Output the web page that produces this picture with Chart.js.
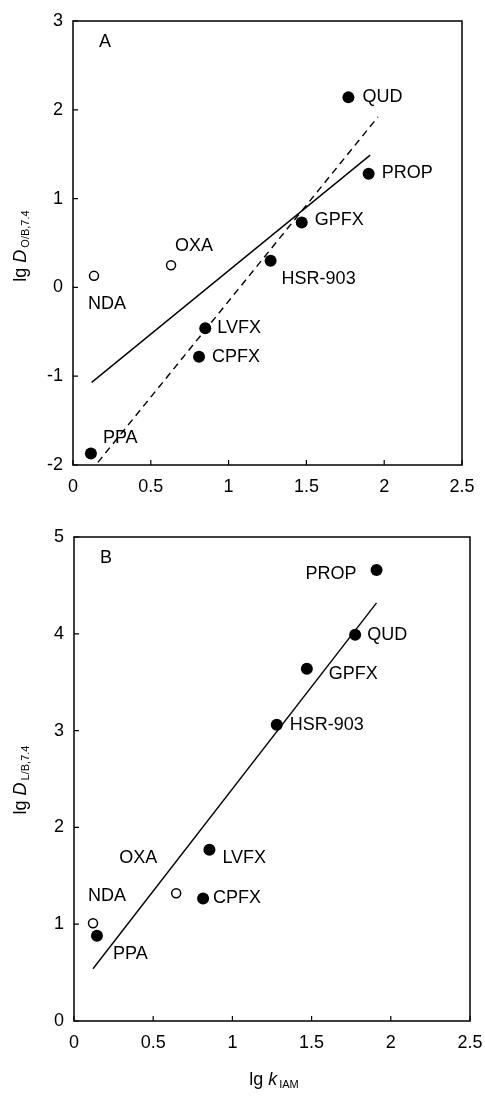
<!DOCTYPE html>
<html>
<head>
<meta charset="utf-8">
<script src="https://cdn.jsdelivr.net/npm/chart.js@4/dist/chart.umd.min.js"></script>
<style>
    html, body { margin: 0; padding: 0; background: #fff; }
    #wrap { position: relative; width: 485px; height: 1098px; font-family: "Liberation Sans", Arial, sans-serif; color: #000; }
    .panel { position: absolute; left: 0; width: 485px; }
    .ytitle, .xtitle { position: absolute; white-space: nowrap; font-size: 18px; line-height: 1; }
    .ytitle { transform: translate(-50%, -50%) rotate(-90deg); }
    .xtitle { transform: translate(-50%, -50%); }
    .ytitle sub, .xtitle sub { font-size: 11px; vertical-align: -3px; margin-left: 2px; }
</style>
</head>
<body>
<div id="wrap">
    <div class="panel" style="top:0;height:500px"><canvas id="chartA"></canvas></div>
    <div class="panel" style="top:500px;height:598px"><canvas id="chartB"></canvas></div>
    <div class="ytitle" style="left:21px;top:246px">lg <i>D</i><sub>O/B,7.4</sub></div>
    <div class="ytitle" style="left:21px;top:780px">lg <i>D</i><sub>L/B,7.4</sub></div>
    <div class="xtitle" style="left:274px;top:1080px">lg <i>k</i><sub>IAM</sub></div>
</div>
<script>
// Panneau A : lg D(O/B,7.4) en fonction de lg k(IAM)
const namesA_filled = ['QUD', 'PROP', 'GPFX', 'HSR-903', 'LVFX', 'CPFX', 'PPA'];
const xA_filled = [1.77, 1.90, 1.47, 1.27, 0.85, 0.81, 0.115];
const yA_filled = [2.14, 1.28, 0.73, 0.30, -0.46, -0.78, -1.87];
const namesA_open = ['OXA', 'NDA'];
const xA_open = [0.63, 0.135];
const yA_open = [0.25, 0.13];
const xA_solid = [0.12, 1.91];
const yA_solid = [-1.07, 1.49];
const xA_dashed = [0.16, 1.96];
const yA_dashed = [-1.97, 1.92];

// Panneau B : lg D(L/B,7.4) en fonction de lg k(IAM)
const namesB_filled = ['PROP', 'QUD', 'GPFX', 'HSR-903', 'LVFX', 'CPFX', 'PPA'];
const xB_filled = [1.91, 1.775, 1.47, 1.28, 0.855, 0.815, 0.145];
const yB_filled = [4.66, 3.99, 3.64, 3.06, 1.77, 1.265, 0.88];
const namesB_open = ['OXA', 'NDA'];
const xB_open = [0.645, 0.12];
const yB_open = [1.32, 1.01];
const xB_line = [0.12, 1.91];
const yB_line = [0.54, 4.32];

const xTicks = [0, 0.5, 1, 1.5, 2, 2.5];
const yTicksA = [-2, -1, 0, 1, 2, 3];
const yTicksB = [0, 1, 2, 3, 4, 5];

// Décalages des étiquettes (en pixels) par rapport au point
const offsetsA = {
    'QUD': [14, 0, 'left'], 'PROP': [13, -1, 'left'], 'GPFX': [13, -3, 'left'],
    'HSR-903': [11, 18, 'left'], 'OXA': [4, -19, 'left'], 'NDA': [-6, 28, 'left'],
    'LVFX': [12, 0, 'left'], 'CPFX': [13, 0, 'left'], 'PPA': [12, -15, 'left']
};
const offsetsB = {
    'PROP': [-20, 4, 'right'], 'QUD': [12, 0, 'left'], 'GPFX': [22, 5, 'left'],
    'HSR-903': [13, 0, 'left'], 'LVFX': [13, 8, 'left'], 'CPFX': [10, -1, 'left'],
    'OXA': [-57, -35, 'left'], 'NDA': [-5, -27, 'left'], 'PPA': [16, 18, 'left']
};

const FONT = '"Liberation Sans", Arial, sans-serif';

function toPoints(xs, ys) {
    return xs.map((x, i) => ({ x: x, y: ys[i] }));
}

function buildLabels(names, xs, ys, offsets) {
    return names.map((n, i) => {
        const o = offsets[n];
        return { text: n, x: xs[i], y: ys[i], dx: o[0], dy: o[1], align: o[2] };
    });
}

// Cadre, graduations intérieures, étiquettes des points et lettre du panneau
const decorPlugin = {
    id: 'decor',
    afterDatasetsDraw(chart, args, opts) {
        const ctx = chart.ctx;
        const a = chart.chartArea;
        const xs = chart.scales.x;
        const ys = chart.scales.y;
        ctx.save();
        ctx.strokeStyle = '#000';
        ctx.lineWidth = 1.5;
        ctx.strokeRect(a.left, a.top, a.right - a.left, a.bottom - a.top);
        ctx.lineWidth = 1.2;
        ctx.beginPath();
        xs.ticks.forEach(t => {
            const px = xs.getPixelForValue(t.value);
            ctx.moveTo(px, a.bottom);
            ctx.lineTo(px, a.bottom - 5);
        });
        ys.ticks.forEach(t => {
            const py = ys.getPixelForValue(t.value);
            ctx.moveTo(a.left, py);
            ctx.lineTo(a.left + 5, py);
        });
        ctx.stroke();

        ctx.fillStyle = '#000';
        ctx.font = '18px ' + FONT;
        ctx.textBaseline = 'middle';
        opts.labels.forEach(l => {
            ctx.textAlign = l.align;
            ctx.fillText(l.text, xs.getPixelForValue(l.x) + l.dx, ys.getPixelForValue(l.y) + l.dy);
        });
        ctx.textAlign = 'left';
        ctx.fillText(opts.letter, a.left + 26, a.top + 21);
        ctx.restore();
    }
};

function makeChart(canvasId, cfg) {
    const canvas = document.getElementById(canvasId);
    if (!canvas) {
        console.error("Canvas introuvable : " + canvasId);
        return;
    }
    return new Chart(canvas, {
        type: 'scatter',
        data: {
            datasets: [
                {
                    label: 'filled',
                    data: toPoints(cfg.xf, cfg.yf),
                    backgroundColor: '#000',
                    borderColor: '#000',
                    borderWidth: 0,
                    pointRadius: 6
                },
                {
                    label: 'open',
                    data: toPoints(cfg.xo, cfg.yo),
                    backgroundColor: '#fff',
                    borderColor: '#000',
                    borderWidth: 1.5,
                    pointRadius: 4.5
                },
                ...cfg.lines.map(l => ({
                    label: 'line',
                    data: toPoints(l.x, l.y),
                    showLine: true,
                    borderColor: '#000',
                    borderWidth: 1.4,
                    borderDash: l.dash || [],
                    pointRadius: 0
                }))
            ]
        },
        options: {
            responsive: true,
            maintainAspectRatio: false,
            animation: false,
            layout: { padding: cfg.padding },
            plugins: {
                legend: { display: false },
                tooltip: { enabled: false },
                decor: { labels: cfg.labels, letter: cfg.letter }
            },
            scales: {
                x: {
                    min: 0, max: 2.5,
                    afterBuildTicks: s => { s.ticks = xTicks.map(v => ({ value: v })); },
                    afterFit: s => { s.height = cfg.xHeight; s.paddingLeft = 0; s.paddingRight = 0; },
                    grid: { display: false, drawTicks: false },
                    border: { display: false },
                    ticks: {
                        color: '#000', padding: 11, maxRotation: 0,
                        font: { family: FONT, size: 18 },
                        callback: v => String(v)
                    }
                },
                y: {
                    min: cfg.yMin, max: cfg.yMax,
                    afterBuildTicks: s => { s.ticks = cfg.yTicks.map(v => ({ value: v })); },
                    afterFit: s => { s.width = cfg.yWidth; s.paddingTop = 0; s.paddingBottom = 0; },
                    grid: { display: false, drawTicks: false },
                    border: { display: false },
                    ticks: {
                        color: '#000', padding: 10,
                        font: { family: FONT, size: 18 },
                        callback: v => String(v)
                    }
                }
            }
        },
        plugins: [decorPlugin]
    });
}

makeChart('chartA', {
    xf: xA_filled, yf: yA_filled, xo: xA_open, yo: yA_open,
    lines: [{ x: xA_solid, y: yA_solid }, { x: xA_dashed, y: yA_dashed, dash: [7, 5] }],
    labels: buildLabels(namesA_filled, xA_filled, yA_filled, offsetsA)
        .concat(buildLabels(namesA_open, xA_open, yA_open, offsetsA)),
    letter: 'A',
    yMin: -2, yMax: 3, yTicks: yTicksA,
    yWidth: 73, xHeight: 35,
    padding: { top: 21, right: 23, left: 0, bottom: 0 }
});

makeChart('chartB', {
    xf: xB_filled, yf: yB_filled, xo: xB_open, yo: yB_open,
    lines: [{ x: xB_line, y: yB_line }],
    labels: buildLabels(namesB_filled, xB_filled, yB_filled, offsetsB)
        .concat(buildLabels(namesB_open, xB_open, yB_open, offsetsB)),
    letter: 'B',
    yMin: 0, yMax: 5, yTicks: yTicksB,
    yWidth: 74, xHeight: 77,
    padding: { top: 37, right: 15, left: 0, bottom: 0 }
});
</script>
</body>
</html>
